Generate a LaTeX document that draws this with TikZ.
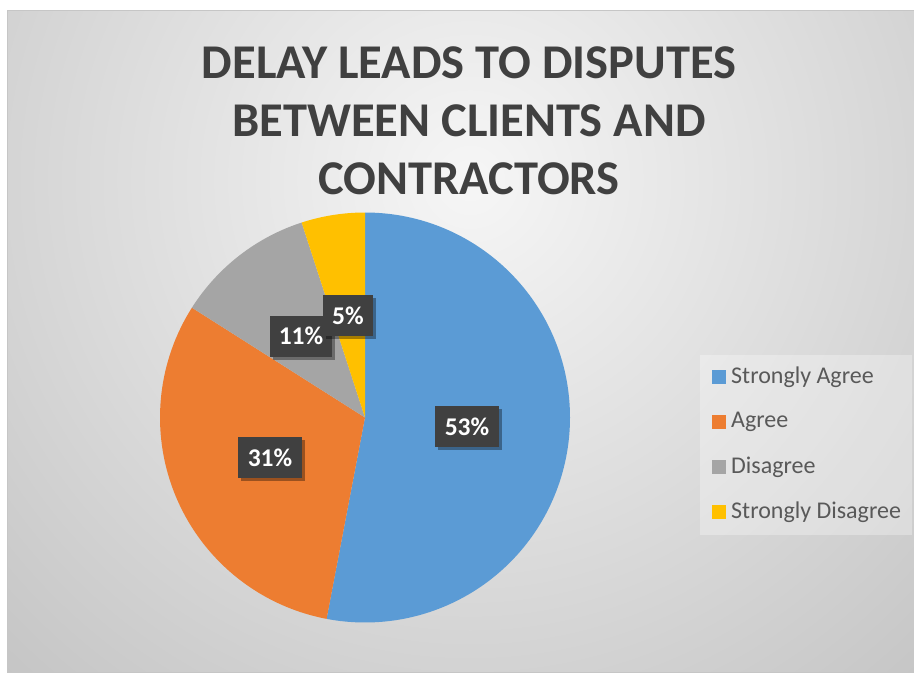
\documentclass[tikz,border=0pt]{standalone}
\usepackage{fontspec}
\setmainfont{Carlito}
\usetikzlibrary{shadows}
\definecolor{sagree}{HTML}{5B9BD5}
\definecolor{agree}{HTML}{ED7D31}
\definecolor{disagree}{HTML}{A5A5A5}
\definecolor{sdisagree}{HTML}{FFC000}
\definecolor{labelbg}{HTML}{404040}
\definecolor{titlecol}{HTML}{404040}
\definecolor{legtxt}{HTML}{595959}
\definecolor{bginner}{HTML}{F6F6F6}
\definecolor{bgouter}{HTML}{C2C2C2}
\begin{document}
\begin{tikzpicture}[x=1pt,y=1pt,
  lbl/.style={fill=labelbg, text=white, inner sep=0pt,
    font=\bfseries\fontsize{25.5}{25.5}\selectfont,
    minimum height=41pt,
    drop shadow={shadow xshift=3pt, shadow yshift=-3pt, opacity=0.35, fill=black}},
  legtext/.style={anchor=west, text=legtxt, inner sep=0pt,
    font=\fontsize{24}{24}\selectfont},
  legkey/.style={minimum size=14pt, inner sep=0pt}]
\useasboundingbox (0,0) rectangle (914,-673);
\fill[white] (0,0) rectangle (914,-673);
\begin{scope}
  \clip (7,-10) rectangle (914,-672);
  \shade[inner color=bginner, outer color=bgouter] (470,-180) circle (720);
\end{scope}
\draw[gray!45, line width=1pt] (7,-10) rectangle (914.5,-672);
% title
\node[text=titlecol, align=center, font=\bfseries\fontsize{48.5}{58}\selectfont] (title) at (469,-121)
  {DELAY LEADS TO DISPUTES\\BETWEEN CLIENTS AND\\CONTRACTORS};
% pie
\coordinate (c) at (365,-417.5);
\fill[sagree] (c) -- ++(90:205) arc[start angle=90, end angle=-100.8, radius=205] -- cycle;
\fill[agree] (c) -- ++(-100.8:205) arc[start angle=-100.8, end angle=-212.4, radius=205] -- cycle;
\fill[disagree] (c) -- ++(-212.4:205) arc[start angle=-212.4, end angle=-252, radius=205] -- cycle;
\fill[sdisagree] (c) -- ++(-252:205) arc[start angle=-252, end angle=-270, radius=205] -- cycle;
% data labels
\node[lbl, minimum width=64pt] (l53) at (467,-426.5) {53\%};
\node[lbl, minimum width=64pt] (l31) at (270,-457.5) {31\%};
\node[lbl, minimum width=62pt] (l11) at (301,-336) {11\%};
\node[lbl, minimum width=50pt] (l5) at (348,-315.5) {5\%};
% legend
\node[fill=white, fill opacity=0.3, minimum width=212pt, minimum height=180pt, anchor=north west, inner sep=0pt] (legend) at (700,-355) {};
\node[legkey, fill=sagree] (k1) at (719,-377) {};
\node[legtext] (t1) at (731,-377) {Strongly Agree};
\node[legkey, fill=agree] (k2) at (719,-422) {};
\node[legtext] (t2) at (731,-422) {Agree};
\node[legkey, fill=disagree] (k3) at (719,-467) {};
\node[legtext] (t3) at (731,-467) {Disagree};
\node[legkey, fill=sdisagree] (k4) at (719,-512) {};
\node[legtext] (t4) at (731,-512) {Strongly Disagree};
\end{tikzpicture}
\end{document}
